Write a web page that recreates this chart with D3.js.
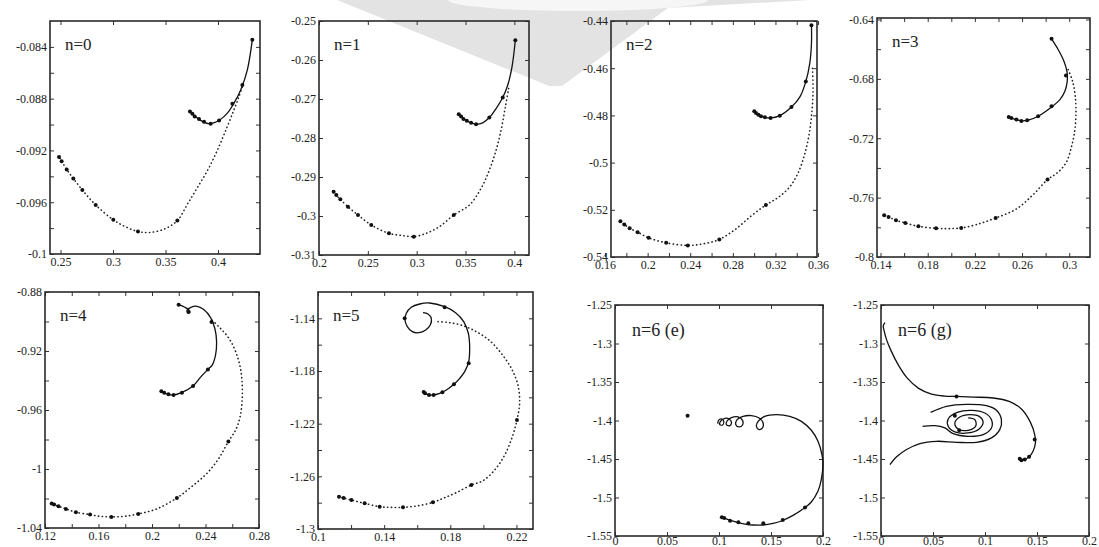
<html>

<head>
    <title>n=0 ... n=6 trajectories</title>
    <script src="https://d3js.org/d3.v7.min.js"></script>
    <style>
        body { margin: 0; background: #fff; }
        text { font-family: "Liberation Serif", "Times New Roman", serif; }
    </style>
</head>

<body>
    <div id="myPlot"></div>
    <script>
        // ---- data ----
        var n0Solid = [[0.3733,-0.08899],[0.3765,-0.08925],[0.3803,-0.0895],[0.3851,-0.08976],[0.3924,-0.08994],[0.4019,-0.08963],[0.4089,-0.08912],[0.4152,-0.08835],[0.4216,-0.08733],[0.4279,-0.08579],[0.4327,-0.08344]];
        var n0Dotted = [[0.4241,-0.08682],[0.42,-0.08784],[0.4152,-0.08886],[0.4089,-0.09014],[0.401,-0.09168],[0.3914,-0.09334],[0.3803,-0.09488],[0.3708,-0.09616],[0.3613,-0.09742],[0.3486,-0.09808],[0.3343,-0.09834],[0.3238,-0.09826],[0.3121,-0.0979],[0.3003,-0.09736],[0.2835,-0.09621],[0.2708,-0.09506],[0.2622,-0.09416],[0.2559,-0.09347],[0.2511,-0.09283],[0.2486,-0.0925]];
        var n0Marks = [[0.3733,-0.08899],[0.3756,-0.08917],[0.3778,-0.08938],[0.3819,-0.08958],[0.3867,-0.08979],[0.393,-0.08994],[0.401,-0.08968],[0.4137,-0.0884],[0.4232,-0.08694],[0.4327,-0.08344],
            [0.3613,-0.09742],[0.3238,-0.09826],[0.3003,-0.09736],[0.2835,-0.09621],[0.2708,-0.09506],[0.2622,-0.09416],[0.2559,-0.09347],[0.2511,-0.09283],[0.2486,-0.0925]];

        var n1Solid = [[0.3431,-0.27389],[0.3465,-0.27474],[0.3513,-0.2756],[0.3557,-0.27611],[0.3608,-0.27645],[0.3676,-0.27611],[0.3744,-0.27474],[0.3813,-0.27244],[0.3881,-0.26962],[0.3932,-0.26647],[0.3976,-0.26177],[0.401,-0.25495]];
        var n1Dotted = [[0.3942,-0.26732],[0.3908,-0.27201],[0.3864,-0.27799],[0.3813,-0.28311],[0.3744,-0.28823],[0.3659,-0.29292],[0.354,-0.29718],[0.338,-0.29974],[0.3233,-0.30273],[0.3097,-0.30444],[0.2971,-0.30529],[0.2859,-0.30503],[0.2716,-0.30444],[0.2535,-0.3023],[0.2399,-0.29974],[0.2296,-0.29761],[0.2218,-0.29573],[0.217,-0.29445],[0.2143,-0.29352]];
        var n1Marks = [[0.3431,-0.27389],[0.3455,-0.2745],[0.3479,-0.2751],[0.3513,-0.2756],[0.3557,-0.27611],[0.3608,-0.27645],[0.3744,-0.27474],[0.3881,-0.26962],[0.401,-0.25495],
            [0.338,-0.29974],[0.2971,-0.30529],[0.2716,-0.30444],[0.2535,-0.3023],[0.2399,-0.29974],[0.2296,-0.29761],[0.2218,-0.29573],[0.2177,-0.29462],[0.215,-0.29377]];

        var n2Solid = [[0.3001,-0.47829],[0.3023,-0.47927],[0.3054,-0.48011],[0.3091,-0.48067],[0.3154,-0.48109],[0.3241,-0.48011],[0.335,-0.47647],[0.3428,-0.47226],[0.3485,-0.46567],[0.3522,-0.45795],[0.3538,-0.44954],[0.3538,-0.44182]];
        var n2Dotted = [[0.3547,-0.46006],[0.3553,-0.46917],[0.3541,-0.47899],[0.3513,-0.48881],[0.3469,-0.49722],[0.3407,-0.50494],[0.3329,-0.51055],[0.3226,-0.51476],[0.311,-0.51798],[0.2976,-0.52247],[0.2829,-0.52808],[0.2673,-0.53257],[0.2524,-0.53439],[0.2377,-0.53509],[0.2174,-0.53397],[0.2009,-0.53187],[0.1906,-0.52948],[0.1831,-0.5278],[0.1775,-0.52598],[0.1744,-0.52486]];
        var n2Marks = [[0.3001,-0.47829],[0.3017,-0.47899],[0.3039,-0.47969],[0.3064,-0.48039],[0.3101,-0.48081],[0.3154,-0.48109],[0.3241,-0.48011],[0.335,-0.47647],[0.3485,-0.46567],[0.3538,-0.44182],
            [0.311,-0.51798],[0.2673,-0.53257],[0.2377,-0.53509],[0.2174,-0.53397],[0.2009,-0.53187],[0.1906,-0.52948],[0.1831,-0.5278],[0.1781,-0.52626],[0.1744,-0.52486]];

        var n3Solid = [[0.285,-0.65303],[0.2906,-0.66022],[0.2955,-0.66809],[0.298,-0.67483],[0.2983,-0.68157],[0.2963,-0.68831],[0.2921,-0.69393],[0.285,-0.69888],[0.2736,-0.70517],[0.2651,-0.70787],[0.2594,-0.70831],[0.2546,-0.70742],[0.2509,-0.70629],[0.2487,-0.70562]];
        var n3Dotted = [[0.2991,-0.67371],[0.3028,-0.68157],[0.3051,-0.69169],[0.3057,-0.70292],[0.3048,-0.71416],[0.302,-0.72539],[0.2972,-0.73663],[0.2898,-0.74337],[0.2816,-0.74787],[0.2694,-0.75798],[0.2552,-0.76764],[0.2376,-0.77371],[0.2211,-0.7782],[0.2084,-0.78045],[0.197,-0.7809],[0.1871,-0.78067],[0.1721,-0.77933],[0.161,-0.77708],[0.1531,-0.77528],[0.1468,-0.77303],[0.1431,-0.77191]];
        var n3Marks = [[0.285,-0.65303],[0.2972,-0.67775],[0.285,-0.69843],[0.2736,-0.70517],[0.2643,-0.70787],[0.2594,-0.70831],[0.2552,-0.70742],[0.2509,-0.70629],[0.2487,-0.70562],
            [0.2816,-0.74787],[0.2376,-0.77371],[0.2084,-0.78045],[0.1871,-0.78067],[0.1721,-0.77933],[0.161,-0.77708],[0.1531,-0.77528],[0.1468,-0.77303],[0.1431,-0.77191]];

        var n4Solid = [[0.2199,-0.88856],[0.2242,-0.89014],[0.2274,-0.89194],[0.2282,-0.89374],[0.2267,-0.89419],[0.2262,-0.89239],[0.2287,-0.89059],[0.2337,-0.88968],[0.2387,-0.89194],[0.2438,-0.89734],[0.247,-0.90477],[0.2483,-0.91378],[0.2475,-0.92279],[0.245,-0.92955],[0.2418,-0.93248],[0.2362,-0.93788],[0.2307,-0.94374],[0.2224,-0.94802],[0.2161,-0.94982],[0.2118,-0.94937],[0.2086,-0.94824],[0.2065,-0.94712]];
        var n4Dotted = [[0.245,-0.89914],[0.2513,-0.90477],[0.2576,-0.91153],[0.2626,-0.92054],[0.2659,-0.93068],[0.2674,-0.94194],[0.2674,-0.9532],[0.2659,-0.96446],[0.2626,-0.97347],[0.2571,-0.98135],[0.2501,-0.99261],[0.2413,-1.00275],[0.2299,-1.01176],[0.2186,-1.01964],[0.2035,-1.02707],[0.1897,-1.03045],[0.1796,-1.03203],[0.1696,-1.03248],[0.1608,-1.03203],[0.1537,-1.0309],[0.1431,-1.02932],[0.1356,-1.02707],[0.1301,-1.02527],[0.126,-1.02392],[0.1243,-1.02347]];
        var n4Marks = [[0.2199,-0.88856],[0.2274,-0.89351],[0.2445,-0.90036],[0.2418,-0.93248],[0.2307,-0.94374],[0.2224,-0.94824],[0.2161,-0.94982],[0.2123,-0.94937],[0.2091,-0.94824],[0.207,-0.94734],
            [0.2571,-0.98135],[0.2186,-1.01964],[0.1897,-1.03045],[0.1696,-1.03248],[0.1537,-1.0309],[0.1431,-1.02932],[0.1356,-1.02707],[0.1301,-1.02527],[0.1268,-1.02414],[0.125,-1.02347]];

        var n5Solid = [[0.1635,-1.1357],[0.1665,-1.13671],[0.1685,-1.14],[0.1679,-1.14506],[0.1651,-1.14886],[0.1611,-1.15089],[0.157,-1.15013],[0.154,-1.14633],[0.1526,-1.14127],[0.1534,-1.1362],[0.1564,-1.13165],[0.1615,-1.12911],[0.1675,-1.12835],[0.1766,-1.13114],[0.1832,-1.1357],[0.1881,-1.14253],[0.1909,-1.15139],[0.1917,-1.16152],[0.1911,-1.17291],[0.1887,-1.18051],[0.1857,-1.18557],[0.1822,-1.19013],[0.1776,-1.19443],[0.1736,-1.19696],[0.1695,-1.19823],[0.1665,-1.19797],[0.1645,-1.19696],[0.1635,-1.19595]];
        var n5Dotted = [[0.1726,-1.14253],[0.1796,-1.14329],[0.1877,-1.14557],[0.1957,-1.15013],[0.2038,-1.15696],[0.2108,-1.16658],[0.2169,-1.17797],[0.2209,-1.19063],[0.2219,-1.20456],[0.2203,-1.21722],[0.2175,-1.22987],[0.2129,-1.2438],[0.2068,-1.25519],[0.1998,-1.26329],[0.1927,-1.26658],[0.1836,-1.27241],[0.1756,-1.27671],[0.1695,-1.27975],[0.1595,-1.28253],[0.1514,-1.28354],[0.1433,-1.28354],[0.1373,-1.28304],[0.1282,-1.28051],[0.1202,-1.27797],[0.1155,-1.27646],[0.1127,-1.27544]];
        var n5Marks = [[0.1524,-1.14],[0.1766,-1.13165],[0.1911,-1.17418],[0.1822,-1.19013],[0.1752,-1.1962],[0.1699,-1.19823],[0.1671,-1.19823],[0.1647,-1.19696],[0.1639,-1.19595],
            [0.2203,-1.21722],[0.1927,-1.26658],[0.1695,-1.27975],[0.1514,-1.28354],[0.1373,-1.28304],[0.1282,-1.28051],[0.1202,-1.27797],[0.1155,-1.27646],[0.1127,-1.27544]];

        var n6eSolid = [[0.0989,-1.4041],[0.0995,-1.3998],[0.1024,-1.398],[0.1046,-1.4011],[0.1034,-1.4058],[0.1008,-1.4054],[0.1014,-1.4011],[0.1056,-1.3972],[0.1098,-1.398],[0.112,-1.4024],[0.1104,-1.4067],[0.1072,-1.4058],[0.1078,-1.4006],[0.112,-1.3963],[0.1184,-1.3954],[0.1226,-1.3998],[0.1226,-1.4058],[0.1194,-1.4084],[0.1162,-1.4054],[0.1174,-1.3989],[0.1232,-1.3946],[0.1312,-1.3937],[0.1386,-1.3967],[0.1424,-1.4032],[0.1418,-1.4097],[0.1386,-1.4118],[0.136,-1.4075],[0.1376,-1.4011],[0.144,-1.3946],[0.1552,-1.3924],[0.168,-1.3946],[0.1792,-1.4011],[0.1888,-1.4127],[0.1952,-1.427],[0.199,-1.4442],[0.2,-1.455],[0.1984,-1.4766],[0.1952,-1.4917],[0.1888,-1.5059],[0.1824,-1.5133],[0.1712,-1.5232],[0.16,-1.5305],[0.152,-1.5336],[0.1424,-1.5357],[0.1328,-1.5357],[0.1264,-1.5349],[0.1184,-1.5327],[0.113,-1.5305],[0.1082,-1.5284],[0.105,-1.5267],[0.1027,-1.5258]];
        var n6eMarks = [[0.0698,-1.3937],[0.1027,-1.5258],[0.105,-1.5267],[0.1106,-1.5302],[0.1186,-1.5323],[0.1282,-1.5336],[0.1426,-1.5336],[0.1613,-1.5293],[0.1827,-1.5129]];

        var n6gTop = [[0.0038,-1.2729],[0.0022,-1.2772],[0.0032,-1.2845],[0.0054,-1.2953],[0.0093,-1.3083],[0.0166,-1.3277],[0.0253,-1.345],[0.0358,-1.3579],[0.0486,-1.3657],[0.0614,-1.3683],[0.0726,-1.3687],[0.0886,-1.3696],[0.1078,-1.3708],[0.1232,-1.3752],[0.135,-1.3851],[0.1437,-1.4024],[0.1478,-1.4183],[0.1485,-1.4291],[0.1462,-1.4399],[0.1424,-1.4472],[0.1382,-1.4507],[0.135,-1.4516],[0.1334,-1.4498]];
        var n6gOuter = [[0.0477,-1.3894],[0.063,-1.3816],[0.0822,-1.379],[0.1014,-1.3808],[0.111,-1.3868],[0.1158,-1.3989],[0.1142,-1.4119],[0.1062,-1.4226],[0.0918,-1.4283],[0.0726,-1.4283],[0.0534,-1.427],[0.0374,-1.43],[0.0246,-1.4377],[0.015,-1.4472],[0.0086,-1.4572]];
        var n6gSpiral = [[0.04,-1.4075],[0.0518,-1.4067],[0.0614,-1.4097],[0.0694,-1.417],[0.0838,-1.4205],[0.0982,-1.4183],[0.1062,-1.4097],[0.1062,-1.3989],[0.0998,-1.3903],[0.087,-1.3868],[0.0733,-1.3894],[0.0646,-1.398],[0.0646,-1.4075],[0.071,-1.4149],[0.0838,-1.4162],[0.0944,-1.411],[0.0982,-1.4024],[0.0944,-1.3946],[0.0854,-1.3924],[0.0758,-1.3955],[0.071,-1.4032],[0.0742,-1.411],[0.0838,-1.4127],[0.0912,-1.4067],[0.0902,-1.3989],[0.0838,-1.3967]];
        var n6gMarks = [[0.0726,-1.3687],[0.1478,-1.4248],[0.1424,-1.4472],[0.1382,-1.4507],[0.135,-1.4516],[0.1334,-1.4498],[0.071,-1.3937],[0.0752,-1.4127]];

        var titles = ["n=0", "n=1", "n=2", "n=3", "n=4", "n=5", "n=6 (e)", "n=6 (g)"];
        var xDomains = [[0.24, 0.44], [0.2, 0.415], [0.1656, 0.359], [0.137, 0.3176], [0.12, 0.28], [0.1, 0.23], [0, 0.2], [0, 0.2]];
        var yDomains = [[-0.1, -0.082], [-0.31, -0.25], [-0.54, -0.44], [-0.8, -0.639], [-1.04, -0.88], [-1.3, -1.12], [-1.55, -1.25], [-1.55, -1.25]];
        var xTickLabels = [
            [0.25, 0.3, 0.35, 0.4],
            [0.2, 0.25, 0.3, 0.35, 0.4],
            [0.16, 0.2, 0.24, 0.28, 0.32, 0.36],
            [0.14, 0.18, 0.22, 0.26, 0.3],
            [0.12, 0.16, 0.2, 0.24, 0.28],
            [0.1, 0.14, 0.18, 0.22],
            [0, 0.05, 0.1, 0.15, 0.2],
            [0, 0.05, 0.1, 0.15, 0.2]];
        var xMinorTicks = [[], [], [0.18, 0.22, 0.26, 0.3, 0.34], [0.16, 0.2, 0.24, 0.28], [0.14, 0.18, 0.22, 0.26], [0.12, 0.16, 0.2], [], []];
        var yTickLabels = [
            [-0.084, -0.088, -0.092, -0.096, -0.1],
            [-0.25, -0.26, -0.27, -0.28, -0.29, -0.3, -0.31],
            [-0.44, -0.46, -0.48, -0.5, -0.52, -0.54],
            [-0.64, -0.68, -0.72, -0.76, -0.8],
            [-0.88, -0.92, -0.96, -1, -1.04],
            [-1.14, -1.18, -1.22, -1.26, -1.3],
            [-1.25, -1.3, -1.35, -1.4, -1.45, -1.5, -1.55],
            [-1.25, -1.3, -1.35, -1.4, -1.45, -1.5, -1.55]];
        var yMinorTicks = [[-0.086, -0.09, -0.094, -0.098], [], [], [-0.66, -0.7, -0.74, -0.78], [-0.9, -0.94, -0.98, -1.02], [-1.16, -1.2, -1.24, -1.28], [], []];

        var solidSeries = [[n0Solid], [n1Solid], [n2Solid], [n3Solid], [n4Solid], [n5Solid], [n6eSolid], [n6gTop, n6gOuter, n6gSpiral]];
        var dottedSeries = [[n0Dotted], [n1Dotted], [n2Dotted], [n3Dotted], [n4Dotted], [n5Dotted], [], []];
        var markSeries = [n0Marks, n1Marks, n2Marks, n3Marks, n4Marks, n5Marks, n6eMarks, n6gMarks];

        // ---- layout: plot frames in page pixels [left, top, right, bottom] ----
        var frames = [
            [50, 21, 260, 254], [319, 21, 529, 255], [611, 21, 817, 257], [877, 18, 1090, 257],
            [45, 292, 259, 528], [318, 292, 533, 529], [615, 305, 823, 536], [881, 305, 1089, 536]];

        var svg = d3.select("#myPlot").append("svg")
            .attr("width", 1099)
            .attr("height", 547);

        // faint grey watermark behind the top row
        svg.append("path")
            .attr("d", "M337,0 L810,0 L668,8 L562,86 L549,86 Z")
            .attr("fill", "#e3e3e3");
        svg.append("ellipse")
            .attr("cx", 578).attr("cy", 0).attr("rx", 130).attr("ry", 11)
            .attr("fill", "#f6f6f6");

        var fmt = function (d) { return String(+d.toFixed(4)); };
        var tickLen = 4;

        frames.forEach(function (f, i) {
            var x = d3.scaleLinear().domain(xDomains[i]).range([f[0], f[2]]);
            var y = d3.scaleLinear().domain(yDomains[i]).range([f[3], f[1]]);
            var g = svg.append("g");
            var lowRow = i >= 6;

            function styleAxis(sel) {
                sel.select(".domain").remove();
                sel.selectAll(".tick line").attr("stroke", "#333").attr("stroke-width", 1);
                sel.selectAll(".tick text").attr("fill", "#222");
                sel.attr("font-family", "'Liberation Serif', 'Times New Roman', serif").attr("font-size", 12);
            }

            // labelled axes (left, bottom) with inward ticks
            g.append("g").attr("transform", "translate(0," + f[3] + ")")
                .call(d3.axisBottom(x).tickValues(xTickLabels[i]).tickSize(-tickLen).tickPadding(lowRow ? 0 : 3).tickFormat(fmt))
                .call(styleAxis);
            g.append("g").attr("transform", "translate(" + f[0] + ",0)")
                .call(d3.axisLeft(y).tickValues(yTickLabels[i]).tickSize(-tickLen).tickPadding(3).tickFormat(fmt))
                .call(styleAxis);
            // mirrored ticks (top, right) and minor ticks
            var allX = xTickLabels[i].concat(xMinorTicks[i]).filter(function (v) { return v >= xDomains[i][0] - 1e-9; });
            var allY = yTickLabels[i].concat(yMinorTicks[i]);
            g.append("g").attr("transform", "translate(0," + f[1] + ")")
                .call(d3.axisTop(x).tickValues(allX).tickSize(-tickLen).tickFormat(""))
                .call(styleAxis);
            g.append("g").attr("transform", "translate(" + f[2] + ",0)")
                .call(d3.axisRight(y).tickValues(allY).tickSize(-tickLen).tickFormat(""))
                .call(styleAxis);
            g.append("g").attr("transform", "translate(0," + f[3] + ")")
                .call(d3.axisBottom(x).tickValues(xMinorTicks[i]).tickSize(-tickLen).tickFormat(""))
                .call(styleAxis);
            g.append("g").attr("transform", "translate(" + f[0] + ",0)")
                .call(d3.axisLeft(y).tickValues(yMinorTicks[i]).tickSize(-tickLen).tickFormat(""))
                .call(styleAxis);

            // frame
            g.append("rect")
                .attr("x", f[0]).attr("y", f[1])
                .attr("width", f[2] - f[0]).attr("height", f[3] - f[1])
                .attr("fill", "none")
                .attr("stroke", "#2a2a2a")
                .attr("stroke-width", 1.6);

            var line = d3.line()
                .x(function (d) { return x(d[0]); })
                .y(function (d) { return y(d[1]); })
                .curve(d3.curveCatmullRom.alpha(0.5));

            dottedSeries[i].forEach(function (s) {
                g.append("path")
                    .attr("d", line(s))
                    .attr("fill", "none")
                    .attr("stroke", "#222")
                    .attr("stroke-width", 1.6)
                    .attr("stroke-linecap", "round")
                    .attr("stroke-dasharray", "0.3,3.6");
            });
            solidSeries[i].forEach(function (s) {
                g.append("path")
                    .attr("d", line(s))
                    .attr("fill", "none")
                    .attr("stroke", "#111")
                    .attr("stroke-width", 1.3);
            });
            g.selectAll("circle.mark")
                .data(markSeries[i])
                .enter()
                .append("circle")
                .attr("class", "mark")
                .attr("cx", function (d) { return x(d[0]); })
                .attr("cy", function (d) { return y(d[1]); })
                .attr("r", 2)
                .attr("fill", "#111");

            // panel title
            g.append("text")
                .attr("x", f[0] + (lowRow ? 17 : 15))
                .attr("y", f[1] + (lowRow ? 31 : 29))
                .attr("font-size", lowRow ? 18 : 17)
                .attr("fill", "#222")
                .text(titles[i]);
        });
    </script>
</body>

</html>
